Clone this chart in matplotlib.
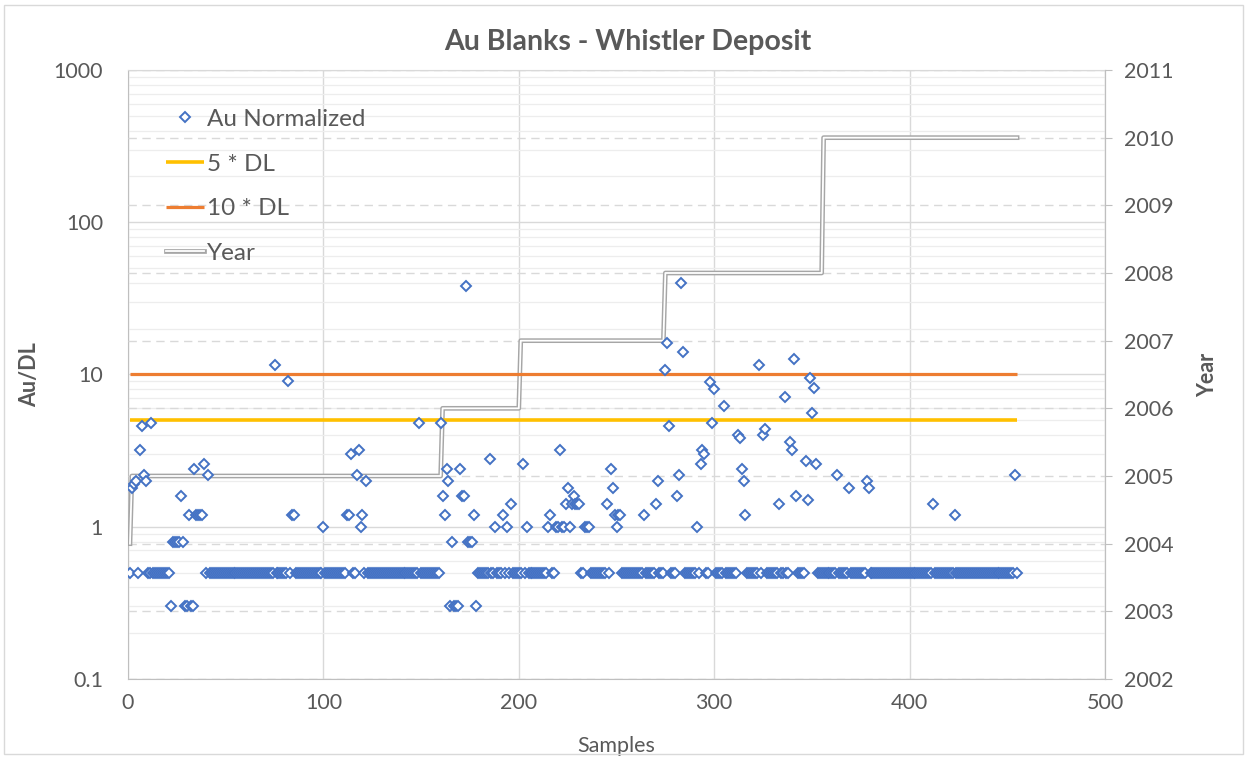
"""
Au blanks - Whistler deposit (normalized to detection limit)
"""

import numpy as np
import matplotlib.pyplot as plt
from matplotlib.patches import Rectangle
from matplotlib.ticker import LogLocator, NullFormatter, FixedLocator

plt.rcParams['font.family'] = ['Lato', 'DejaVu Sans']

# --- data ---
N_SAMPLES = 455
BELOW_DL = 0.5          # samples reported below detection (plotted at 0.5*DL)

HIGH_SAMPLES = [2, 3, 4, 6, 7, 8, 9, 12, 22, 23, 24, 25, 26, 27, 28, 29, 30, 31,
                32, 33, 34, 35, 36, 37, 38, 39, 41, 75, 82, 84, 85, 100, 112, 113,
                114, 117, 118, 119, 120, 122, 149, 160, 161, 162, 163, 164, 165,
                166, 167, 168, 169, 170, 171, 172, 173, 174, 175, 176, 177, 178,
                185, 188, 192, 194, 196, 202, 204, 215, 216, 219, 220, 221, 222,
                223, 224, 225, 226, 227, 228, 229, 230, 231, 234, 235, 236, 245,
                247, 248, 249, 250, 251, 252, 264, 270, 271, 275, 276, 277, 281,
                282, 283, 284, 291, 293, 294, 295, 298, 299, 300, 305, 312, 313,
                314, 315, 316, 323, 325, 326, 333, 336, 339, 340, 341, 342, 347,
                348, 349, 350, 351, 352, 363, 369, 378, 379, 412, 423, 454]
HIGH_VALUES = [1.8, 1.9, 2.0, 3.2, 4.6, 2.2, 2.0, 4.8, 0.3, 0.8, 0.8, 0.8, 0.8, 1.6,
               0.8, 0.3, 0.3, 1.2, 0.3, 0.3, 2.4, 1.2, 1.2, 1.2, 1.2, 2.6, 2.2, 11.5,
               9.1, 1.2, 1.2, 1.0, 1.2, 1.2, 3.0, 2.2, 3.2, 1.0, 1.2, 2.0, 4.8, 4.8,
               1.6, 1.2, 2.4, 2.0, 0.3, 0.8, 0.3, 0.3, 0.3, 2.4, 1.6, 1.6, 38.0, 0.8,
               0.8, 0.8, 1.2, 0.3, 2.8, 1.0, 1.2, 1.0, 1.4, 2.6, 1.0, 1.0, 1.2, 1.0,
               1.0, 3.2, 1.0, 1.0, 1.4, 1.8, 1.0, 1.4, 1.6, 1.4, 1.4, 1.4, 1.0, 1.0,
               1.0, 1.4, 2.4, 1.8, 1.2, 1.0, 1.2, 1.2, 1.2, 1.4, 2.0, 10.7, 16.0,
               4.6, 1.6, 2.2, 40.0, 14.0, 1.0, 2.6, 3.2, 3.0, 8.9, 4.8, 8.0, 6.2,
               4.0, 3.8, 2.4, 2.0, 1.2, 11.6, 4.0, 4.4, 1.4, 7.1, 3.6, 3.2, 12.7,
               1.6, 2.7, 1.5, 9.5, 5.6, 8.2, 2.6, 2.2, 1.8, 2.0, 1.8, 1.4, 1.2, 2.2]

DL_X = [1, 455]
DL5 = [5, 5]
DL10 = [10, 10]

YEAR_X = [1, 2, 160, 161, 200, 201, 274, 275, 355, 356, 455]
YEAR_Y = [2004, 2005, 2005, 2006, 2006, 2007, 2007, 2008, 2008, 2010, 2010]

samples = np.arange(1, N_SAMPLES + 1)
au = np.full(N_SAMPLES, BELOW_DL)
au[np.array(HIGH_SAMPLES) - 1] = HIGH_VALUES

TXT = '#595959'
GRID = '#D9D9D9'
MINOR = '#EDEDED'
AXLINE = '#BFBFBF'
BLUE = '#4472C4'
YELLOW = '#FFC000'
ORANGE = '#ED7D31'
YEARGRAY = '#A6A6A6'

fig = plt.figure(figsize=(12.49, 7.59), dpi=100)
fig.patches.append(Rectangle((0.003, 0.006), 0.992, 0.988, transform=fig.transFigure,
                             fill=False, ec=GRID, lw=1))
ax = fig.add_axes([0.1025, 0.1054, 0.7822, 0.8024])

# primary axis: grid + ticks
ax.set_yscale('log')
ax.set_ylim(0.1, 1000)
ax.set_xlim(0, 500)
ax.set_xticks([0, 100, 200, 300, 400, 500])
ax.set_yticks([0.1, 1, 10, 100, 1000])
ax.set_yticklabels(['0.1', '1', '10', '100', '1000'])
ax.yaxis.set_minor_locator(LogLocator(base=10, subs=range(2, 10)))
ax.yaxis.set_minor_formatter(NullFormatter())
ax.grid(which='major', color=GRID, lw=1.0)
ax.grid(which='minor', axis='y', color=MINOR, lw=0.9)
ax.tick_params(which='both', length=0, labelsize=15.5, labelcolor=TXT)
ax.tick_params(axis='y', pad=18)
ax.tick_params(axis='x', pad=10)
for s in ['left', 'bottom', 'right']:
    ax.spines[s].set_color(AXLINE)
ax.spines['top'].set_color(GRID)
ax.set_ylabel('Au/DL', fontsize=15.5, fontweight='bold', color=TXT)
ax.yaxis.set_label_coords(-0.09, 0.5)
ax.set_xlabel('Samples', fontsize=15.5, color=TXT)
ax.xaxis.set_label_coords(0.5, -0.094)

# secondary axis: year
ax2 = ax.twinx()
ax2.set_ylim(2002, 2011)
ax2.yaxis.set_major_locator(FixedLocator(range(2002, 2012)))
ax2.grid(axis='y', color=GRID, lw=1.0, ls=(0, (6, 4)))
ax2.tick_params(axis='y', length=5, color=AXLINE, labelsize=15.5, labelcolor=TXT, pad=9)
for s in ['left', 'top', 'bottom']:
    ax2.spines[s].set_visible(False)
ax2.spines['right'].set_color(AXLINE)
yr_out, = ax2.plot(YEAR_X, YEAR_Y, color=YEARGRAY, lw=3.4)
yr_in, = ax2.plot(YEAR_X, YEAR_Y, color='white', lw=1.3)
ax2.set_ylabel('Year', fontsize=15.5, fontweight='bold', color=TXT)
ax2.yaxis.set_label_coords(1.094, 0.5)

# top layer: data points and detection-limit lines
ax3 = ax.twinx()
ax3.set_yscale('log')
ax3.set_ylim(0.1, 1000)
ax3.axis('off')
h5, = ax3.plot(DL_X, DL5, color=YELLOW, lw=2.6, solid_capstyle='butt')
h10, = ax3.plot(DL_X, DL10, color=ORANGE, lw=2.3, solid_capstyle='butt')
hau, = ax3.plot(samples, au, ls='none', marker='D', ms=4.8, mfc='white',
                mec=BLUE, mew=1.4)

ax3.legend([hau, h5, h10, (yr_out, yr_in)],
           ['Au Normalized', '5 * DL', '10 * DL', 'Year'],
           loc='upper left', bbox_to_anchor=(0.016, 0.972), frameon=False,
           fontsize=17.5, handlelength=1.6, handletextpad=0.1, labelspacing=0.97,
           labelcolor=TXT)

fig.text(0.503, 0.945, 'Au Blanks - Whistler Deposit', ha='center', va='center',
         fontsize=20.5, fontweight='bold', color=TXT)

fig.savefig('out.png', dpi=100)
